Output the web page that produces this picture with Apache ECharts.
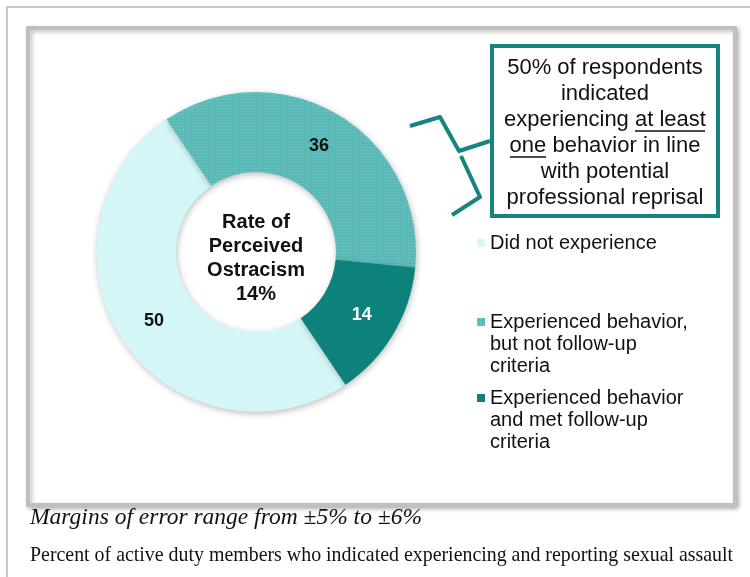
<!DOCTYPE html>
<html>
<head>
<meta charset="utf-8">
<script src="https://cdn.jsdelivr.net/npm/echarts@6/dist/echarts.min.js"></script>
<style>
html,body{margin:0;padding:0;background:#fff;}
#c{width:750px;height:577px;}
</style>
</head>
<body>
<div id="c"></div>
<script>
// ---- data ----
const categories = ['Did not experience', 'Experienced behavior,\nbut not follow-up\ncriteria', 'Experienced behavior\nand met follow-up\ncriteria'];
const values = [50, 36, 14];
const centerLines = ['Rate of', 'Perceived', 'Ostracism', '14%'];
const calloutLines = ['50% of respondents', 'indicated', 'experiencing at least', 'one behavior in line', 'with potential', 'professional reprisal'];
const noteText = 'Margins of error range from \u00B15% to \u00B16%';
const footText = 'Percent of active duty members who indicated experiencing and reporting sexual assault';

const colors = ['#d4f6f6', '#5bbdbb', '#0d827c'];
const labelColors = ['#111', '#111', '#fff'];

const chart = echarts.init(document.getElementById('c'), null, {renderer: 'canvas'});

const pieData = values.map((v, i) => {
  const d = {
    name: categories[i],
    value: v,
    itemStyle: {color: colors[i]},
    label: {color: labelColors[i]}
  };
  if (i === 1) {
    d.itemStyle.decal = {
      symbol: 'rect', symbolSize: 1,
      dashArrayX: [1, 2], dashArrayY: [1, 2],
      color: 'rgba(255,255,255,0.22)'
    };
  }
  return d;
});

function legendFor(i, top) {
  const lines = categories[i].split('\n').length;
  const pre = '\n'.repeat(lines - 1);
  return {
    orient: 'vertical',
    left: 477,
    top: top,
    padding: 0,
    itemWidth: 8,
    itemHeight: 8,
    icon: 'rect',
    selectedMode: false,
    formatter: (name) => pre + name,
    data: [{name: categories[i]}],
    textStyle: {
      fontFamily: 'Arial, "Liberation Sans", sans-serif',
      fontSize: 20,
      color: '#111',
      lineHeight: 22
    }
  };
}

const teal = '#16857f';

chart.setOption({
  animation: false,
  backgroundColor: '#fff',
  legend: [legendFor(0, 232), legendFor(1, 267), legendFor(2, 343)],
  series: [{
    type: 'pie',
    center: [256, 252],
    radius: [80, 160],
    startAngle: -56,
    clockwise: true,
    avoidLabelOverlap: false,
    label: {
      show: true,
      position: 'inside',
      formatter: '{c}',
      fontFamily: 'Arial, "Liberation Sans", sans-serif',
      fontSize: 18,
      fontWeight: 'bold'
    },
    labelLine: {show: false},
    itemStyle: {
      borderWidth: 0,
      shadowBlur: 6,
      shadowColor: 'rgba(0,0,0,0.25)',
      shadowOffsetX: 1,
      shadowOffsetY: 2
    },
    emphasis: {disabled: true},
    data: pieData
  }],
  graphic: [
    {type: 'rect', silent: true, z: -10, shape: {x: 7, y: 7, width: 820, height: 700},
      style: {fill: 'none', stroke: '#c9c9c9', lineWidth: 2}},
    {type: 'rect', silent: true, z: -9, shape: {x: 28, y: 28, width: 707, height: 477},
      style: {fill: '#fff', stroke: '#c0c0c0', lineWidth: 4, shadowBlur: 4, shadowColor: 'rgba(0,0,0,0.25)', shadowOffsetX: 2, shadowOffsetY: 2}},
    {type: 'text', silent: true, z: 10, style: {
      x: 256, y: 258, align: 'center', verticalAlign: 'middle',
      text: centerLines.join('\n'), lineHeight: 24,
      font: 'bold 20px Arial, "Liberation Sans", sans-serif', fill: '#111'}},
    {type: 'rect', silent: true, z: 5, shape: {x: 492, y: 46, width: 226, height: 170},
      style: {fill: '#fff', stroke: teal, lineWidth: 4}},
    {type: 'text', silent: true, z: 10, style: {
      x: 605, y: 133, align: 'center', verticalAlign: 'middle',
      text: calloutLines.join('\n'), lineHeight: 26,
      font: '22px Arial, "Liberation Sans", sans-serif', fill: '#111'}},
    {type: 'line', silent: true, z: 10, shape: {x1: 635, y1: 131, x2: 705, y2: 131}, style: {stroke: '#111', lineWidth: 1.3}},
    {type: 'line', silent: true, z: 10, shape: {x1: 510, y1: 157, x2: 546, y2: 157}, style: {stroke: '#111', lineWidth: 1.3}},
    {type: 'polyline', silent: true, z: 6, shape: {points: [[410, 126], [440, 117], [459, 151], [490, 141]]},
      style: {fill: 'none', stroke: teal, lineWidth: 4, lineJoin: 'round'}},
    {type: 'polyline', silent: true, z: 6, shape: {points: [[461, 156], [480, 197], [452, 215]]},
      style: {fill: 'none', stroke: teal, lineWidth: 4, lineJoin: 'round'}},
    {type: 'text', silent: true, style: {
      x: 30, y: 518, verticalAlign: 'middle', text: noteText,
      font: 'italic 23.5px "Liberation Serif", "Times New Roman", serif', fill: '#111'}},
    {type: 'text', silent: true, style: {
      x: 30, y: 556, verticalAlign: 'middle', text: footText,
      font: '19.9px "Liberation Serif", "Times New Roman", serif', fill: '#111'}}
  ]
});
</script>
</body>
</html>
